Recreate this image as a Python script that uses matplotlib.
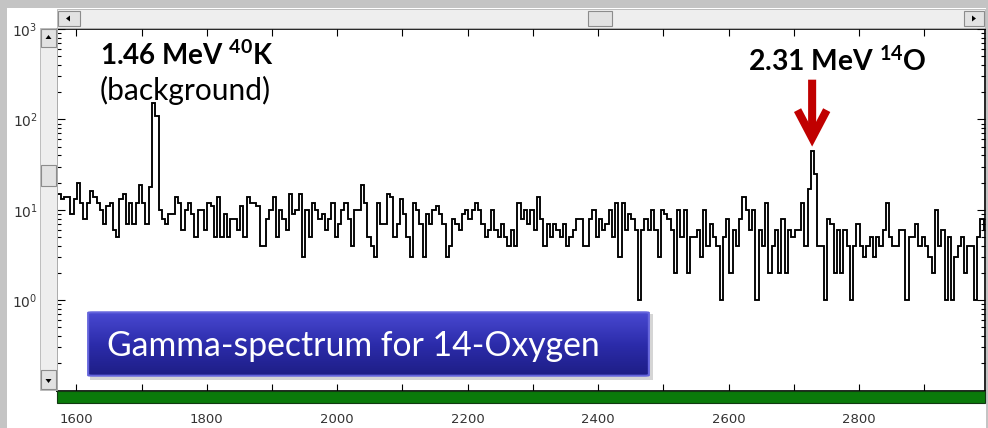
import numpy as np
import matplotlib.pyplot as plt
from matplotlib.patches import Rectangle, FancyBboxPatch, Polygon
from matplotlib.colors import LinearSegmentedColormap
from matplotlib.ticker import LogLocator, NullFormatter

plt.rcParams['font.family'] = ['DejaVu Sans']
plt.rcParams['mathtext.default'] = 'regular'

# gamma spectrum, counts per 5-channel bin, first bin starts at channel 1571
bin_start = 1571
bin_width = 5
counts = [
    15, 13, 14, 14, 9, 13, 20, 12, 8, 12,
    16, 14, 12, 10, 7, 11, 12, 6, 5, 13,
    15, 7, 12, 7, 12, 19, 12, 7, 18, 150,
    110, 10, 8, 7, 9, 9, 14, 12, 6, 10,
    12, 9, 5, 10, 10, 6, 12, 11, 5, 14,
    5, 9, 5, 8, 8, 6, 11,
    5, 14, 12, 12, 11, 4, 4, 8, 10, 14,
    5, 10, 8, 6, 15, 9, 10, 15, 3, 10,
    5, 12, 10, 8, 9, 6, 8, 12, 5, 7,
    10, 12, 8, 4, 10, 10, 19, 12, 5, 4,
    3, 12, 7, 7, 15, 14, 5, 7, 13, 9,
    5, 3, 12, 10, 7, 3, 9,
    7, 10, 11, 9, 7, 3, 4, 8, 7, 6,
    9, 10, 8, 10, 12, 10, 7, 5, 6, 10,
    6, 5, 7, 5, 4, 6, 4, 12, 8, 10,
    7, 10, 6, 14, 8, 4, 7, 5, 7, 6,
    5, 7, 4, 5, 6, 8, 8, 4, 4, 8,
    10, 5, 8, 6, 7, 10, 5,
    12, 3, 12, 6, 9, 8, 6, 1, 6, 8,
    6, 10, 6, 3, 10, 9, 8, 6, 2, 10,
    5, 10, 2, 5, 5, 6, 3, 10, 4, 7,
    5, 4, 1, 5, 8, 2, 6, 4, 8, 14,
    10, 6, 10, 1, 6, 4, 12, 2, 4, 6,
    2, 8, 2, 6, 5, 6,
    6, 12, 4, 17, 45, 25, 4, 4, 1, 8,
    7, 2, 6, 2, 6, 4, 1, 4, 7, 4,
    3, 4, 5, 3, 5, 4, 6, 12, 5, 4,
    4, 6, 6, 1, 5, 5, 7, 4, 5, 4,
    3, 2, 10, 4, 6, 1, 5, 1, 3, 4,
    5, 2, 4, 4, 1, 5, 8, 6,
]

x_major = [1600, 1800, 2000, 2200, 2400, 2600, 2800]
x_minor = [1700, 1900, 2100, 2300, 2500, 2700, 2900]
y_major = [1, 10, 100, 1000]
y_labels = ['$10^{0}$', '$10^{1}$', '$10^{2}$', '$10^{3}$']

k_label = '1.46 MeV $^{40}$K'
k_note = '(background)'
o_label = '2.31 MeV $^{14}$O'
o_channel = 2728
title = 'Gamma-spectrum for 14-Oxygen'

W, H = 988, 428


def fx(x):
    return x / W


def fy(y):
    return 1 - y / H


fig = plt.figure(figsize=(W / 100, H / 100), dpi=100)
fig.patch.set_facecolor('white')


def box(x0, y0, x1, y1, **kw):
    r = Rectangle((fx(x0), fy(y1)), fx(x1) - fx(x0), fy(y0) - fy(y1),
                  transform=fig.transFigure, **kw)
    fig.add_artist(r)


def button(x0, y0, x1, y1):
    box(x0, y0, x1, y1, facecolor='#e2e2e2', edgecolor='#8c8c8c', lw=0.8)


def tri(pts):
    fig.add_artist(Polygon([(fx(x), fy(y)) for x, y in pts], closed=True,
                           transform=fig.transFigure, color='black', lw=0))


# main spectrum axes
ax = fig.add_axes([fx(57), fy(390.5), fx(985) - fx(57), fy(29) - fy(390.5)])
edges = bin_start + bin_width * np.arange(len(counts) + 1)
ax.stairs(counts, edges, baseline=None, color='black', lw=1.35)
ax.set_yscale('log')
ax.set_ylim(0.1, 1000)
ax.set_xlim(1570.4, 2993)
ax.set_xticks(x_major)
ax.set_xticks(x_minor, minor=True)
ax.set_yticks(y_major)
ax.set_yticklabels(y_labels)
ax.yaxis.set_minor_locator(LogLocator(base=10, subs=np.arange(2, 10)))
ax.yaxis.set_minor_formatter(NullFormatter())
ax.tick_params(which='both', direction='in', top=True, right=True, width=0.8)
ax.tick_params(axis='x', which='both', length=5, pad=16.5, labelsize=9.5,
               labelcolor='#333333')
ax.tick_params(axis='y', which='major', length=6, pad=14, labelsize=10,
               labelcolor='#333333')
ax.tick_params(axis='y', which='minor', length=3)
for s in ax.spines.values():
    s.set_linewidth(1.2)

# red arrow on the 14O line
ax.annotate('', xy=(o_channel, 50), xytext=(o_channel, 275),
            arrowprops=dict(arrowstyle='->,head_length=2.0,head_width=1.05',
                            color='#c00000', lw=5.8, shrinkA=0, shrinkB=0,
                            joinstyle='miter', capstyle='butt'),
            annotation_clip=False)

# shadow of the title box
ax.add_patch(Rectangle((fx(90), fy(380)), fx(653) - fx(90), fy(314) - fy(380),
                       transform=fig.transFigure, facecolor='#888888',
                       alpha=0.35, lw=0, clip_on=False, zorder=5))

# window frame, scrollbars and the green bar
box(0, 0, 988, 8, facecolor='#c4c4c4', lw=0)
box(0, 0, 7, 428, facecolor='#c4c4c4', lw=0)
box(986, 0, 988, 428, facecolor='#c4c4c4', lw=0)

box(57, 9, 985, 28, facecolor='#eeeeee', edgecolor='#b4b4b4', lw=0.6)
button(58, 11, 80, 26)
tri([(66, 18.5), (70, 15.5), (70, 21.5)])
button(588, 11, 612, 26)
button(964, 11, 984, 26)
tri([(976, 18.5), (972, 15.5), (972, 21.5)])

box(40, 28, 57, 390, facecolor='#eeeeee', edgecolor='#b4b4b4', lw=0.6)
button(41, 29, 56, 47)
tri([(48.5, 35), (45.5, 39), (51.5, 39)])
button(41, 165, 56, 186)
button(41, 370, 56, 389)
tri([(48.5, 383), (45.5, 379), (51.5, 379)])

box(57, 391, 985, 403, facecolor='#0a7a0a', edgecolor='#123812', lw=0.8)

# peak labels
fig.text(fx(100), fy(65), k_label, fontsize=20, fontweight='bold',
         family='Lato', va='baseline', ha='left')
fig.text(fx(100), fy(100), k_note, fontsize=21.5, family='Lato',
         va='baseline', ha='left')
fig.text(fx(748), fy(70.5), o_label, fontsize=20.3, fontweight='bold',
         family='Lato', va='baseline', ha='left')

# blue title box with a vertical gradient
bx = fig.add_axes([fx(87), fy(377), fx(650) - fx(87), fy(311) - fy(377)])
bx.set_axis_off()
cmap = LinearSegmentedColormap.from_list('box', ['#4a4ad2', '#2c2cab', '#1d1d84'])
grad = np.linspace(0, 1, 64).reshape(-1, 1)
im = bx.imshow(grad, aspect='auto', cmap=cmap, extent=(0, 1, 0, 1))
frame = FancyBboxPatch((0.002, 0.02), 0.996, 0.96,
                       boxstyle='round,pad=0,rounding_size=0.008',
                       transform=bx.transAxes, facecolor='none',
                       edgecolor='#6464dc', lw=1.5)
bx.add_patch(frame)
im.set_clip_path(frame)
bx.text(0.0355, 0.47, title, color='white', fontsize=24.3, family='Lato',
        va='center', ha='left', transform=bx.transAxes)

fig.savefig('out.png', dpi=100)
